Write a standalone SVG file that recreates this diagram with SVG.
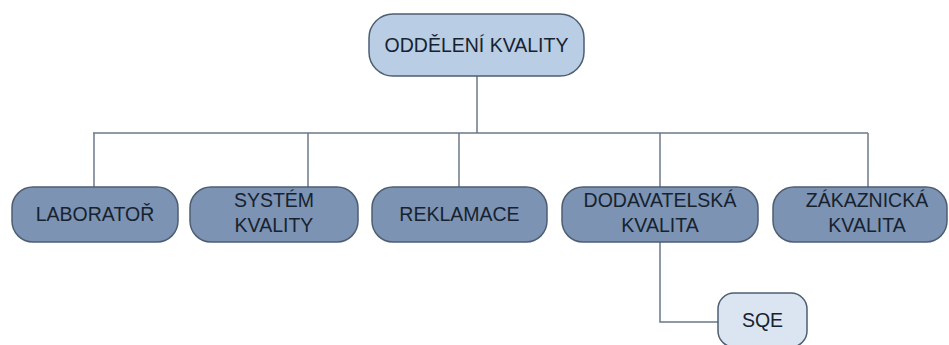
<svg xmlns="http://www.w3.org/2000/svg" width="949" height="345" viewBox="0 0 949 345">
  <style>
    .box { stroke: #4e5e72; stroke-width: 1.5; }
    .top { fill: #b9cde4; }
    .unit { fill: #7c93b4; }
    .sub { fill: #dbe5f1; }
    .lbl { font-family: "Liberation Sans", Arial, sans-serif; font-size: 19.5px; fill: #17222f; text-anchor: middle; }
    .wire { fill: none; stroke: #6b7886; stroke-width: 1.5; }
  </style>
  <rect width="949" height="345" fill="#ffffff"/>

  <g id="connectors">
    <path class="wire" d="M477 76 V133"/>
    <path class="wire" d="M93 133 H868"/>
    <path class="wire" d="M94 133 V187"/>
    <path class="wire" d="M308 133 V187"/>
    <path class="wire" d="M459 133 V187"/>
    <path class="wire" d="M660 133 V187"/>
    <path class="wire" d="M868 133 V187"/>
    <path class="wire" d="M660 242 V322 H718"/>
  </g>

  <g id="oddeleni-kvality">
    <rect class="box top" x="369" y="14" width="215" height="62" rx="24"/>
    <text class="lbl" x="476.5" y="52">ODDĚLENÍ KVALITY</text>
  </g>

  <g id="laborator">
    <rect class="box unit" x="12" y="187" width="166" height="55" rx="21"/>
    <text class="lbl" x="95" y="221">LABORATOŘ</text>
  </g>

  <g id="system-kvality">
    <rect class="box unit" x="190" y="187" width="168" height="55" rx="21"/>
    <text class="lbl" x="274" y="207">SYSTÉM</text>
    <text class="lbl" x="274" y="232">KVALITY</text>
  </g>

  <g id="reklamace">
    <rect class="box unit" x="372" y="187" width="175" height="55" rx="21"/>
    <text class="lbl" x="459.5" y="221">REKLAMACE</text>
  </g>

  <g id="dodavatelska-kvalita">
    <rect class="box unit" x="562" y="187" width="196" height="55" rx="21"/>
    <text class="lbl" x="660" y="207">DODAVATELSKÁ</text>
    <text class="lbl" x="660" y="232">KVALITA</text>
  </g>

  <g id="zakaznicka-kvalita">
    <rect class="box unit" x="773" y="187" width="174" height="55" rx="21"/>
    <text class="lbl" x="867" y="207">ZÁKAZNICKÁ</text>
    <text class="lbl" x="867" y="232">KVALITA</text>
  </g>

  <g id="sqe">
    <rect class="box sub" x="718" y="293" width="89" height="54" rx="16"/>
    <text class="lbl" x="762.5" y="327">SQE</text>
  </g>
</svg>
